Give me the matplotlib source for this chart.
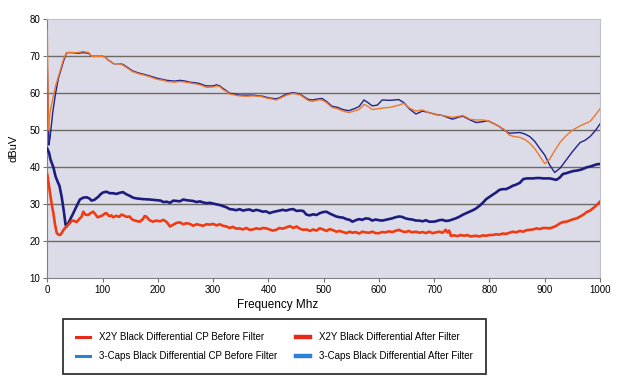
import matplotlib
matplotlib.use("Agg")
import matplotlib.pyplot as plt
from matplotlib.lines import Line2D

# ---------------- data ----------------
x2y_before_f = [0, 2, 5, 10, 15, 20, 25, 30, 35, 45, 55, 65, 75, 80, 90, 100, 105, 110, 120, 130, 137, 145, 155, 165, 173, 185, 198, 210, 216, 230, 240, 250, 258, 270, 276, 285, 288, 300, 306, 312, 318, 324, 330, 340, 348, 360, 372, 384, 390, 400, 408, 414, 420, 433, 445, 457, 465, 473, 480, 490, 497, 505, 515, 525, 535, 545, 555, 564, 573, 580, 588, 597, 606, 620, 636, 645, 655, 667, 679, 690, 703, 715, 733, 745, 752, 765, 776, 787, 797, 808, 818, 827, 836, 845, 855, 864, 873, 882, 891, 900, 909, 918, 928, 939, 950, 964, 973, 982, 991, 1000]
x2y_before_v = [77, 50, 55, 58.5, 62, 64.5, 67, 69.5, 71, 71, 71, 71.3, 71, 70, 70, 70, 69.8, 69, 68, 68, 67.6, 66.8, 65.8, 65.3, 65, 64.5, 63.8, 63.5, 63.2, 63, 63.2, 63, 62.8, 62.5, 62.3, 61.8, 61.6, 61.7, 62, 61.8, 61, 60.5, 59.8, 59.5, 59.3, 59.2, 59.3, 59.2, 59, 58.6, 58.4, 58.2, 58.6, 59.5, 60, 59.6, 58.8, 58, 57.8, 58.2, 58.2, 57.5, 56.2, 55.8, 55.2, 54.8, 55.2, 55.6, 57, 56.5, 55.6, 55.8, 56, 56.2, 56.8, 57.3, 56, 55.2, 55.5, 54.8, 54.2, 54, 53.5, 53.8, 54, 53, 52.8, 52.8, 52.6, 51.8, 51, 50.2, 48.7, 48.3, 48.1, 47.5, 46.5, 45, 43, 41, 42.2, 44.5, 46.8, 48.6, 50, 51.2, 51.8, 52.4, 54, 55.8]

caps_before_f = [0, 1, 3, 5, 10, 15, 20, 25, 30, 35, 45, 55, 65, 75, 80, 90, 100, 105, 110, 120, 130, 137, 145, 155, 165, 173, 185, 198, 210, 216, 230, 240, 250, 258, 270, 276, 285, 288, 300, 306, 312, 318, 324, 330, 340, 348, 360, 372, 384, 390, 400, 408, 414, 420, 433, 445, 457, 465, 473, 480, 490, 497, 505, 515, 525, 535, 545, 555, 564, 573, 580, 588, 597, 606, 620, 636, 645, 655, 667, 679, 690, 703, 715, 733, 745, 752, 765, 776, 787, 797, 808, 818, 827, 836, 845, 855, 864, 873, 882, 891, 900, 909, 918, 928, 939, 950, 964, 973, 982, 991, 1000]
caps_before_v = [68, 60, 46, 48, 55, 60, 64, 66.5, 69, 71, 71, 70.8, 71, 70.8, 70, 70, 70, 69.8, 69, 68, 68, 67.8, 67, 66, 65.5, 65.2, 64.7, 64.1, 63.7, 63.5, 63.3, 63.5, 63.3, 63, 62.8, 62.6, 62.1, 62, 62, 62.3, 62, 61.3, 60.7, 60, 59.8, 59.5, 59.5, 59.5, 59.3, 59.2, 58.8, 58.6, 58.5, 58.8, 59.8, 60.2, 59.8, 59, 58.3, 58.2, 58.5, 58.6, 57.8, 56.5, 56.2, 55.6, 55.3, 55.8, 56.4, 58.2, 57.5, 56.6, 56.8, 58.2, 58.1, 58.3, 57.5, 55.8, 54.4, 55.2, 54.8, 54.3, 54, 53, 53.6, 53.8, 52.8, 52.1, 52.3, 52.6, 51.8, 51, 50, 49.2, 49.3, 49.4, 49, 48.3, 47, 45.1, 43.3, 40.6, 38.6, 39.8, 42, 44.2, 46.7, 47.3, 48.3, 49.8, 51.7]

caps_after_f = [0, 3, 6, 11, 15, 19, 22, 26, 30, 33, 35, 40, 47, 53, 59, 65, 71, 76, 80, 85, 92, 97, 101, 107, 113, 119, 125, 131, 137, 143, 149, 155, 161, 167, 173, 185, 198, 205, 210, 216, 222, 228, 234, 240, 246, 252, 258, 264, 270, 276, 282, 288, 294, 300, 306, 312, 318, 324, 330, 336, 342, 348, 354, 360, 366, 372, 378, 384, 390, 396, 402, 408, 414, 420, 426, 432, 439, 445, 451, 457, 463, 469, 475, 481, 487, 493, 499, 505, 511, 517, 523, 529, 535, 541, 547, 552, 558, 564, 570, 576, 582, 588, 594, 600, 606, 612, 618, 624, 630, 636, 642, 648, 654, 660, 667, 673, 679, 685, 691, 697, 703, 709, 715, 721, 727, 733, 739, 745, 752, 758, 764, 770, 776, 782, 788, 794, 800, 806, 812, 818, 824, 830, 836, 842, 848, 855, 861, 867, 873, 879, 885, 891, 897, 903, 909, 915, 921, 927, 933, 939, 945, 952, 958, 964, 970, 976, 982, 988, 994, 1000]
caps_after_v = [45, 44, 42, 40, 37.5, 36, 35, 32, 28, 24.5, 24, 25.5, 27.6, 29.5, 31.3, 31.8, 31.9, 31.6, 31, 31.2, 32, 32.8, 33.2, 33.4, 33, 33, 32.8, 33.1, 33.3, 32.7, 32.3, 31.8, 31.6, 31.5, 31.4, 31.3, 31.1, 31, 30.6, 30.7, 30.4, 31, 30.9, 30.8, 31.3, 31.1, 31, 30.9, 30.6, 30.8, 30.5, 30.3, 30.4, 30.2, 30, 29.8, 29.5, 29.2, 28.7, 28.6, 28.4, 28.7, 28.3, 28.5, 28.6, 28.2, 28.5, 28.3, 28, 28.1, 27.6, 27.9, 28.1, 28.3, 28.5, 28.3, 28.6, 28.7, 28.2, 28.3, 28.2, 27.2, 27, 27.3, 27.1, 27.6, 27.9, 28, 27.5, 27.1, 26.7, 26.5, 26.4, 26, 25.8, 25.3, 25.7, 26, 25.8, 26.2, 26.1, 25.6, 25.9, 25.7, 25.6, 25.8, 26, 26.2, 26.5, 26.7, 26.6, 26.2, 26, 25.9, 25.6, 25.6, 25.4, 25.7, 25.3, 25.3, 25.4, 25.7, 25.8, 25.5, 25.6, 25.9, 26.2, 26.6, 27.2, 27.6, 28, 28.4, 28.9, 29.6, 30.4, 31.4, 32, 32.6, 33.2, 33.9, 34.1, 34.1, 34.5, 35, 35.3, 35.8, 36.8, 37, 37, 37, 37.1, 37.1, 37, 37, 37, 36.8, 36.6, 37.2, 38.2, 38.4, 38.7, 39, 39.1, 39.3, 39.6, 40, 40.2, 40.5, 40.8, 40.9]

x2y_after_f = [0, 3, 5, 8, 11, 14, 17, 20, 23, 26, 29, 32, 35, 40, 44, 47, 53, 59, 62, 65, 69, 74, 78, 83, 87, 91, 95, 100, 104, 107, 112, 116, 119, 125, 130, 134, 137, 143, 149, 152, 155, 161, 167, 173, 176, 179, 185, 191, 197, 204, 210, 216, 222, 228, 234, 240, 246, 252, 258, 264, 270, 276, 282, 288, 294, 300, 306, 312, 318, 324, 330, 336, 342, 348, 354, 360, 366, 372, 378, 384, 390, 396, 402, 408, 414, 420, 426, 433, 439, 445, 451, 457, 463, 469, 475, 481, 487, 493, 499, 505, 511, 517, 523, 529, 535, 541, 547, 552, 558, 564, 570, 576, 582, 588, 594, 600, 606, 612, 618, 624, 630, 636, 642, 648, 654, 660, 667, 673, 679, 685, 691, 697, 703, 709, 715, 721, 724, 727, 730, 736, 742, 748, 754, 760, 766, 770, 776, 782, 788, 794, 800, 806, 812, 818, 824, 830, 836, 842, 848, 855, 861, 867, 873, 879, 885, 891, 897, 903, 909, 915, 921, 927, 933, 939, 945, 952, 958, 964, 970, 976, 982, 988, 994, 1000]
x2y_after_v = [38, 35, 33, 30, 27.6, 24.5, 22.3, 21.8, 21.7, 22.2, 23, 23.6, 24, 24.8, 25.5, 25.6, 25.2, 26.2, 26.6, 28, 27.2, 27.1, 27.6, 28, 27.3, 26.5, 26.7, 27, 27.5, 27.6, 26.8, 27, 26.5, 26.9, 26.6, 27.2, 27.1, 26.6, 26.7, 26.1, 25.8, 25.5, 25.3, 26, 26.8, 26.7, 25.7, 25.3, 25.6, 25.4, 25.8, 25.2, 24, 24.5, 25, 25.1, 24.6, 24.9, 24.7, 24.2, 24.6, 24.4, 24.2, 24.6, 24.5, 24.7, 24.3, 24.6, 24.2, 24, 23.6, 23.9, 23.4, 23.5, 23.2, 23.6, 23.1, 23.2, 23.5, 23.3, 23.6, 23.5, 23.2, 22.9, 23.1, 23.6, 23.4, 23.8, 24.1, 23.6, 24, 23.4, 23.1, 23.2, 22.8, 23.2, 22.9, 23.5, 23.2, 22.8, 23.3, 23, 22.6, 22.8, 22.5, 22.2, 22.6, 22.3, 22.5, 22.1, 22.6, 22.4, 22.3, 22.6, 22.2, 22.2, 22.5, 22.4, 22.7, 22.5, 22.8, 23.1, 22.7, 22.5, 22.8, 22.4, 22.6, 22.3, 22.5, 22.2, 22.6, 22.2, 22.4, 22.6, 22.3, 23.1, 22.4, 22.9, 21.5, 21.6, 21.4, 21.7, 21.5, 21.7, 21.3, 21.4, 21.5, 21.3, 21.6, 21.5, 21.7, 21.7, 21.9, 21.8, 22.1, 22, 22.3, 22.6, 22.4, 22.8, 22.6, 23, 23.1, 23.2, 23.5, 23.3, 23.6, 23.6, 23.5, 23.8, 24.2, 24.8, 25.2, 25.3, 25.6, 26, 26.2, 26.7, 27.2, 27.9, 28.3, 29, 29.8, 30.7]

labels = ["X2Y Black Differential CP Before Filter",
          "3-Caps Black Differential CP Before Filter",
          "X2Y Black Differential After Filter",
          "3-Caps Black Differential After Filter"]
x_ticks = list(range(0, 1001, 100))
y_ticks = list(range(10, 81, 10))

# ---------------- figure ----------------
FONT = ['Liberation Sans Narrow', 'Liberation Sans', 'DejaVu Sans']
plt.rcParams['font.family'] = FONT

fig = plt.figure(figsize=(6.21, 3.88), dpi=100)
ax = fig.add_axes([47.3 / 621, 1 - 278.3 / 388, (600 - 47.3) / 621, (278.3 - 19.3) / 388])
ax.set_facecolor('#dcdce8')

for yv in y_ticks[1:-1]:
    ax.axhline(yv, color='#6e6a66', lw=1.0, zorder=1)

ax.plot(caps_after_f, caps_after_v, color='#1c1c80', lw=1.9, zorder=3)
ax.plot(x2y_after_f, x2y_after_v, color='#f03a12', lw=1.9, zorder=4)
ax.plot(caps_before_f, caps_before_v, color='#22228a', lw=1.0, zorder=5)
ax.plot(x2y_before_f, x2y_before_v, color='#f07828', lw=1.0, zorder=5)

ax.set_xlim(0, 1000)
ax.set_ylim(10, 80)
ax.set_xticks(x_ticks)
ax.set_yticks(y_ticks)
ax.tick_params(axis='both', labelsize=7, length=3, color='#707070', pad=2)
for s in ['left', 'bottom']:
    ax.spines[s].set_color('#808080')
for s in ['top', 'right']:
    ax.spines[s].set_color('#c0c0cc')

ax.set_ylabel('dBuV', fontsize=8, labelpad=8)
fig.text(278 / 621, 1 - 305 / 388, 'Frequency Mhz', fontsize=8.5, ha='center', va='center')

handles = [Line2D([], [], color='#e62a1a', lw=2.2),
           Line2D([], [], color='#2a80d6', lw=2.2),
           Line2D([], [], color='#e62a1a', lw=3.2),
           Line2D([], [], color='#2a80d6', lw=3.2)]
leg = fig.legend(handles, labels, ncol=2, loc='upper left',
                 bbox_to_anchor=(63 / 621, 1 - 319 / 388),
                 fontsize=7, frameon=True, fancybox=False,
                 edgecolor='black', handlelength=1.45, handletextpad=0.9,
                 columnspacing=1.9, borderpad=1.35, labelspacing=0.95,
                 borderaxespad=0)
leg.get_frame().set_linewidth(1.3)

fig.savefig('out.png', dpi=100, facecolor='white')
